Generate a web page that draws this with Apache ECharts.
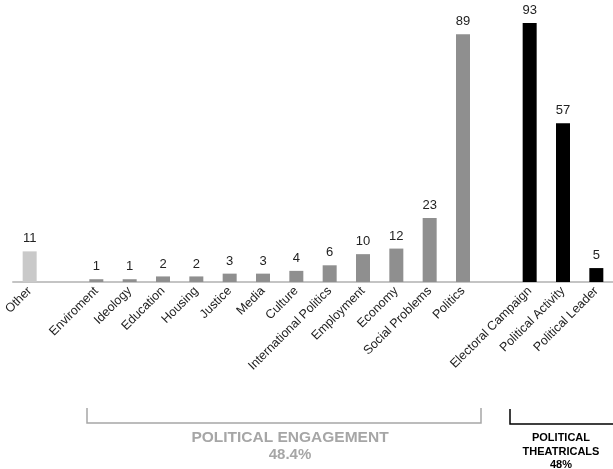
<!DOCTYPE html>
<html>
<head>
<meta charset="utf-8">
<script src="https://cdn.jsdelivr.net/npm/echarts@6/dist/echarts.min.js"></script>
<style>html,body{margin:0;padding:0;background:#fff}#c{width:613px;height:469px}</style>
</head>
<body>
<div id="c"></div>
<script>
var categories = ['Other', '', 'Enviroment', 'Ideology', 'Education', 'Housing', 'Justice', 'Media', 'Culture',
  'International Politics', 'Employment', 'Economy', 'Social Problems', 'Politics', ' ',
  'Electoral Campaign', 'Political Activity', 'Political Leader'];
var values = [11, null, 1, 1, 2, 2, 3, 3, 4, 6, 10, 12, 23, 89, null, 93, 57, 5];
var groups = ['other', 'gap', 'eng', 'eng', 'eng', 'eng', 'eng', 'eng', 'eng', 'eng', 'eng', 'eng', 'eng', 'eng', 'gap', 'th', 'th', 'th'];
var groupColors = { other: '#c9c9c9', eng: '#8f8f8f', th: '#000000', gap: '#ffffff' };

var chart = echarts.init(document.getElementById('c'), null, { renderer: 'canvas' });
var font = 'Liberation Sans, Arial, sans-serif';
chart.setOption({
  animation: false,
  grid: { left: 13, top: 23, width: 605, bottom: 187 },
  xAxis: {
    type: 'category',
    data: categories,
    axisTick: { show: false },
    axisLine: { lineStyle: { color: '#c4c4c4', width: 2 } },
    axisLabel: { interval: 0, rotate: 45, fontSize: 12.5, color: '#222', fontFamily: font, margin: 7 }
  },
  yAxis: { type: 'value', min: 0, max: 93, show: false, splitLine: { show: false } },
  series: [{
    type: 'bar',
    barWidth: 14,
    data: values.map(function (v, i) {
      return { value: v, itemStyle: { color: groupColors[groups[i]] } };
    }),
    label: { show: true, position: 'top', distance: 6, fontSize: 13, color: '#222', fontFamily: font }
  }],
  graphic: [
    { type: 'polyline', shape: { points: [[87, 408], [87, 423], [481, 423], [481, 408]] },
      style: { stroke: '#a6a6a6', lineWidth: 1.5, fill: null } },
    { type: 'polyline', shape: { points: [[510, 409], [510, 424], [613, 424]] },
      style: { stroke: '#000', lineWidth: 1.5, fill: null } },
    { type: 'text', x: 290, y: 438, style: { text: 'POLITICAL ENGAGEMENT', fontSize: 15.5, fontWeight: 'bold', fill: '#a6a6a6', fontFamily: font, textAlign: 'center', textVerticalAlign: 'middle' } },
    { type: 'text', x: 290, y: 455, style: { text: '48.4%', fontSize: 15, fontWeight: 'bold', fill: '#a6a6a6', fontFamily: font, textAlign: 'center', textVerticalAlign: 'middle' } },
    { type: 'text', x: 561, y: 438, style: { text: 'POLITICAL', fontSize: 11, fontWeight: 'bold', fill: '#000', fontFamily: font, textAlign: 'center', textVerticalAlign: 'middle' } },
    { type: 'text', x: 561, y: 452, style: { text: 'THEATRICALS', fontSize: 11, fontWeight: 'bold', fill: '#000', fontFamily: font, textAlign: 'center', textVerticalAlign: 'middle' } },
    { type: 'text', x: 561, y: 465, style: { text: '48%', fontSize: 11, fontWeight: 'bold', fill: '#000', fontFamily: font, textAlign: 'center', textVerticalAlign: 'middle' } }
  ]
});
</script>
</body>
</html>
